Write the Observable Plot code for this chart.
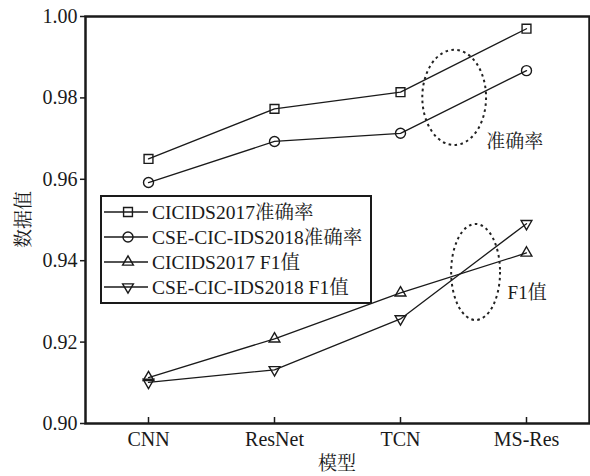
<!DOCTYPE html>
<html>
<head>
<meta charset="utf-8">
<script src="https://cdn.jsdelivr.net/npm/d3@7"></script>
<script src="https://cdn.jsdelivr.net/npm/@observablehq/plot@0.6"></script>
<style>
  html, body { margin: 0; padding: 0; background: #fff; }
  #chart { width: 590px; height: 476px; }
</style>
</head>
<body>
<div id="chart"></div>
<script>
// Models compared on the x axis
const models = ["CNN", "ResNet", "TCN", "MS-Res"];

// Accuracy and F1 of each model on the two intrusion-detection datasets
const acc2017 = [0.965, 0.9773, 0.9814, 0.9970];
const acc2018 = [0.9592, 0.9693, 0.9713, 0.9867];
const f1_2017 = [0.9113, 0.9208, 0.9321, 0.9419];
const f1_2018 = [0.9101, 0.9132, 0.9257, 0.9491];

const seriesNames = [
  "CICIDS2017准确率",
  "CSE-CIC-IDS2018准确率",
  "CICIDS2017 F1值",
  "CSE-CIC-IDS2018 F1值"
];
const yTicks = [0.90, 0.92, 0.94, 0.96, 0.98, 1.00];
const xLabel = "模型";
const yLabel = "数据值";

// Group annotations: dotted ellipses around the TCN → MS-Res segments
const groups = [
  {label: "准确率", cx: 2.43, cy: 0.980, rx: 0.253, ry: 0.0117, tx: 2.68, ty: 0.9693},
  {label: "F1值",   cx: 2.60, cy: 0.9371, rx: 0.194, ry: 0.0118, tx: 2.85, ty: 0.9320}
];

// Downward-pointing triangle (mirror of d3.symbolTriangle)
const triangleDown = {
  draw(context, size) {
    const y = -Math.sqrt(size / (Math.sqrt(3) * 3));
    context.moveTo(0, -y * 2);
    context.lineTo(Math.sqrt(3) * y, y);
    context.lineTo(-Math.sqrt(3) * y, y);
    context.closePath();
  }
};

const symbols = ["square", "circle", "triangle", triangleDown];
const radii = [5, 5, 4, 4];
const values = [acc2017, acc2018, f1_2017, f1_2018];

const rows = values.map((vals, s) => vals.map((v, i) => ({s, i, v})));

const font = "'Liberation Serif', 'Noto Serif CJK SC', 'Noto Sans CJK SC', serif";
const ink = "#1a1a1a";

const marks = [];
rows.forEach((data, s) => {
  marks.push(Plot.line(data, {x: "i", y: "v", stroke: ink, strokeWidth: 1.3}));
  marks.push(Plot.dot(data, {x: "i", y: "v", symbol: symbols[s], r: radii[s], stroke: ink, strokeWidth: 1.4, fill: "none"}));
});

const plot = Plot.plot({
  width: 590,
  height: 476,
  marginTop: 16,
  marginLeft: 85,
  marginRight: 1,
  marginBottom: 53,
  style: {fontFamily: font, fontSize: "20px", color: ink, background: "#fff"},
  x: {domain: [-0.5, 3.5]},
  y: {domain: [0.90, 1.00]},
  marks: [
    Plot.axisY({ticks: yTicks, tickFormat: d3.format(".2f"), tickSize: 5, tickPadding: 3, label: null, strokeWidth: 1.5, fontSize: 20}),
    Plot.axisX({ticks: d3.range(models.length), tickFormat: i => models[i], tickSize: 0, tickPadding: 8, label: null, fontSize: 20}),
    Plot.ruleX(d3.range(models.length), {insetTop: 401, stroke: ink, strokeWidth: 1.5}),
    ...marks,
    Plot.text(groups, {x: "tx", y: "ty", text: "label", textAnchor: "start", fill: ink, fontSize: 19}),
    Plot.frame({stroke: ink, strokeWidth: 2.5})
  ]
});

document.getElementById("chart").appendChild(plot);

const svg = d3.select(plot);
const xs = plot.scale("x"), ys = plot.scale("y");

// Axis titles
svg.append("text")
  .attr("transform", `translate(23,${(16 + 423) / 2}) rotate(-90)`)
  .attr("text-anchor", "middle").attr("dy", "0.35em")
  .attr("fill", ink).attr("font-family", font).attr("font-size", 19)
  .text(yLabel);
svg.append("text")
  .attr("x", (85 + 589) / 2).attr("y", 463)
  .attr("text-anchor", "middle").attr("dy", "0.35em")
  .attr("fill", ink).attr("font-family", font).attr("font-size", 19)
  .text(xLabel);

// Dotted ellipses marking the accuracy and F1 groups
svg.append("g").selectAll("ellipse").data(groups).join("ellipse")
  .attr("cx", d => xs.apply(d.cx))
  .attr("cy", d => ys.apply(d.cy))
  .attr("rx", d => xs.apply(d.cx + d.rx) - xs.apply(d.cx))
  .attr("ry", d => ys.apply(d.cy - d.ry) - ys.apply(d.cy))
  .attr("fill", "none")
  .attr("stroke", "#222")
  .attr("stroke-width", 2)
  .attr("stroke-dasharray", "2.6 3.4");

// Legend box in the lower-left of the plot area
const legend = svg.append("g").attr("transform", "translate(101,196)");
legend.append("rect")
  .attr("width", 270).attr("height", 107)
  .attr("fill", "#fff").attr("stroke", ink).attr("stroke-width", 2);
seriesNames.forEach((name, s) => {
  const y = 16 + s * 25;
  const row = legend.append("g").attr("transform", `translate(0,${y})`);
  row.append("line").attr("x1", 3).attr("x2", 47).attr("stroke", ink).attr("stroke-width", 1.3);
  const sym = typeof symbols[s] === "string"
    ? {square: d3.symbolSquare, circle: d3.symbolCircle, triangle: d3.symbolTriangle}[symbols[s]]
    : symbols[s];
  row.append("path")
    .attr("transform", "translate(27,0)")
    .attr("d", d3.symbol(sym, radii[s] * radii[s] * Math.PI)())
    .attr("fill", "none").attr("stroke", ink).attr("stroke-width", 1.4);
  row.append("text")
    .attr("x", 51).attr("dy", "0.36em")
    .attr("text-anchor", "start")
    .attr("fill", ink)
    .attr("font-family", font).attr("font-size", 19.5)
    .text(name);
});
</script>
</body>
</html>
